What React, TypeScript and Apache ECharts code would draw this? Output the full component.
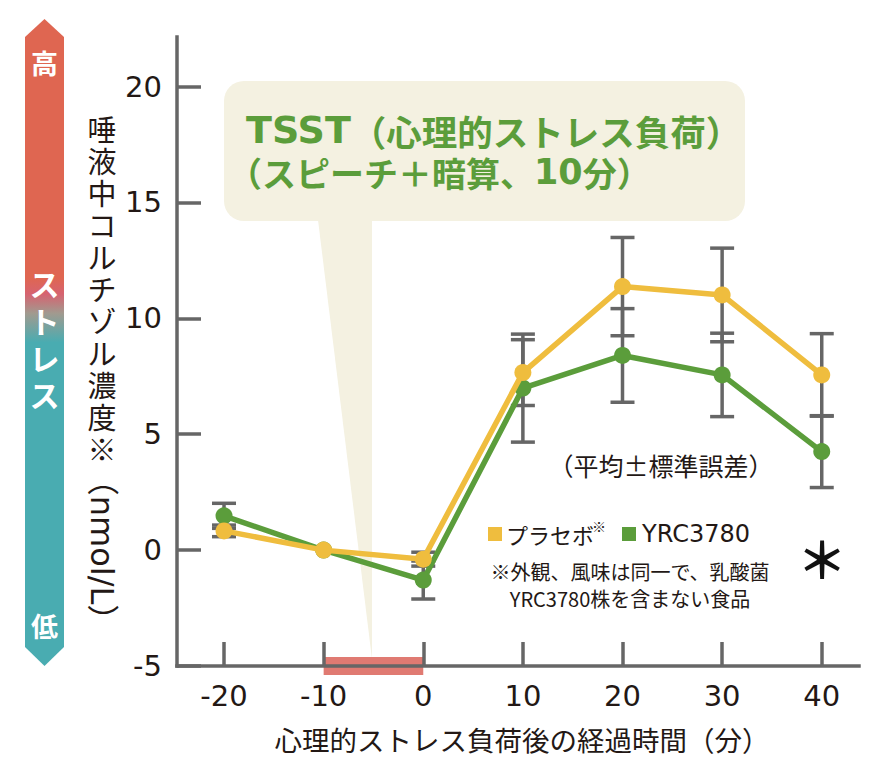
import React, { useEffect, useRef } from "react";
import * as echarts from "echarts";

// ---- data ----
const times = [-20, -10, 0, 10, 20, 30, 40];
const placeboMean = [0.83, 0, -0.39, 7.66, 11.37, 11.01, 7.56];
const placeboSE = [0.25, 0, 0.3, 1.42, 2.12, 2.02, 1.78];
const yrcMean = [1.48, 0, -1.29, 6.99, 8.4, 7.56, 4.25];
const yrcSE = [0.54, 0, 0.82, 2.33, 2.02, 1.8, 1.55];
const xTicks = [-20, -10, 0, 10, 20, 30, 40];
const yTicks = [-5, 0, 5, 10, 15, 20];
const stressPeriod = [-10, 0];
const seriesNames = ["プラセボ", "YRC3780"];
const yTitleChars = ["唾", "液", "中", "コ", "ル", "チ", "ゾ", "ル", "濃", "度", "※"];
const stressChars = ["ス", "ト", "レ", "ス"];

const YELLOW = "#efbd3e";
const GREEN = "#5b9d3b";
const AXIS = "#666666";
const INK = "#231815";
const LATIN = "'DejaVu Sans', 'Noto Sans CJK JP', sans-serif";
const CJK = "'Noto Sans CJK JP', sans-serif";

function errorData(mean: number[], se: number[]) {
  return times.map((t, i) => [t, mean[i] - se[i], mean[i] + se[i]]);
}

function renderError(_params: any, api: any) {
  const x = api.value(0);
  const lo = api.value(1);
  const hi = api.value(2);
  if (hi - lo < 1e-6) return { type: "group", children: [] };
  const pHi = api.coord([x, hi]);
  const pLo = api.coord([x, lo]);
  const hw = 12;
  const st = { stroke: AXIS, lineWidth: 3.5 };
  return {
    type: "group",
    children: [
      { type: "line", shape: { x1: pHi[0], y1: pHi[1], x2: pLo[0], y2: pLo[1] }, style: st },
      { type: "line", shape: { x1: pHi[0] - hw, y1: pHi[1], x2: pHi[0] + hw, y2: pHi[1] }, style: st },
      { type: "line", shape: { x1: pLo[0] - hw, y1: pLo[1], x2: pLo[0] + hw, y2: pLo[1] }, style: st },
    ],
  };
}

function renderBar(_params: any, api: any) {
  const a = api.coord([api.value(0), -5]);
  const b = api.coord([api.value(1), -5]);
  return {
    type: "rect",
    shape: { x: a[0], y: a[1] - 9, width: b[0] - a[0], height: 18 },
    style: { fill: "#e07a72" },
  };
}

export default function App() {
  const ref = useRef<HTMLDivElement>(null);
  useEffect(() => {
    if (!ref.current) return;
    document.body.style.margin = "0";
    const chart = echarts.init(ref.current, null, { renderer: "svg" });
    const yTitle = yTitleChars.map((c, i) => ({
      type: "text", z: 1, x: 102, y: 128 + i * 32,
      style: { text: c, fill: INK, fontSize: 29, lineHeight: 31, fontFamily: CJK, align: "center", verticalAlign: "middle" },
    }));
    const stressText = stressChars.map((c, i) => ({
      type: "text", z: 1, x: 44.5, y: 283 + i * 37,
      style: { text: c, fill: "#fff", fontSize: 30, fontWeight: "bold", fontFamily: CJK, align: "center", verticalAlign: "middle" },
    }));
    const option: any = {
      animation: false,
      backgroundColor: "#ffffff",
      grid: { left: 177, right: 37, top: 37, bottom: 113 },
      xAxis: {
        type: "value",
        min: -24.72,
        max: 43.74,
        z: 3,
        splitLine: { show: false },
        axisLine: { onZero: false, lineStyle: { color: AXIS, width: 3.5, cap: "square" } },
        axisTick: { inside: true, length: 24, customValues: xTicks, lineStyle: { color: AXIS, width: 3.5 } },
        axisLabel: { customValues: xTicks, color: INK, fontSize: 29, fontFamily: LATIN, margin: 15 },
      },
      yAxis: {
        type: "value",
        min: -5,
        max: 22.14,
        z: 3,
        splitLine: { show: false },
        axisLine: { show: true, onZero: false, lineStyle: { color: AXIS, width: 3.5, cap: "square" } },
        axisTick: { show: true, inside: true, length: 24, customValues: yTicks, lineStyle: { color: AXIS, width: 3.5 } },
        axisLabel: { customValues: yTicks, color: INK, fontSize: 29, fontFamily: LATIN, margin: 15 },
      },
      series: [
        {
          type: "custom",
          name: "stress",
          z: 1,
          renderItem: renderBar,
          encode: { x: [0, 1] },
          data: [stressPeriod],
        },
        {
          type: "custom",
          name: "err-yrc",
          z: 4,
          renderItem: renderError,
          encode: { x: 0, y: [1, 2] },
          data: errorData(yrcMean, yrcSE),
        },
        {
          type: "custom",
          name: "err-placebo",
          z: 4,
          renderItem: renderError,
          encode: { x: 0, y: [1, 2] },
          data: errorData(placeboMean, placeboSE),
        },
        {
          type: "line",
          name: seriesNames[1],
          z: 5,
          data: times.map((t, i) => [t, yrcMean[i]]),
          symbol: "circle",
          symbolSize: 17,
          lineStyle: { color: GREEN, width: 5.5 },
          itemStyle: { color: GREEN },
        },
        {
          type: "line",
          name: seriesNames[0],
          z: 6,
          data: times.map((t, i) => [t, placeboMean[i]]),
          symbol: "circle",
          symbolSize: 17,
          lineStyle: { color: YELLOW, width: 5.5 },
          itemStyle: { color: YELLOW },
        },
      ],
      graphic: {
        elements: [
          // stress arrow
          {
            type: "polygon",
            z: 0,
            shape: { points: [[44.5, 19], [64, 37], [64, 647], [44.5, 666], [25, 647], [25, 37]] },
            style: {
              fill: new echarts.graphic.LinearGradient(0, 0, 0, 1, [
                { offset: 0, color: "#df6651" },
                { offset: 0.4, color: "#df6651" },
                { offset: 0.425, color: "#d66370" },
                { offset: 0.455, color: "#a19a8f" },
                { offset: 0.5, color: "#49acb1" },
                { offset: 1, color: "#49acb1" },
              ]),
            },
          },
          { type: "text", z: 1, x: 44.5, y: 62, style: { text: "高", fill: "#fff", fontSize: 27, fontWeight: "bold", fontFamily: CJK, align: "center", verticalAlign: "middle" } },
          ...stressText,
          { type: "text", z: 1, x: 44.5, y: 625, style: { text: "低", fill: "#fff", fontSize: 27, fontWeight: "bold", fontFamily: CJK, align: "center", verticalAlign: "middle" } },
          // y axis title (vertical)
          ...yTitle,
          { type: "text", z: 1, x: 102, y: 550, rotation: -Math.PI / 2, style: { text: "（nmol/L）", fill: INK, fontSize: 32, fontFamily: LATIN, align: "center", verticalAlign: "middle" } },
          // callout
          { type: "rect", z: -1, shape: { x: 224, y: 81, width: 521, height: 140, r: 20 }, style: { fill: "#f4f1e1" } },
          { type: "polygon", z: -1, shape: { points: [[318, 220], [372, 220], [372, 659]] }, style: { fill: "#f4f1e1" } },
          {
            type: "text", z: 1, x: 246, y: 130,
            style: {
              text: "{a|TSST}{b|（心理的ストレス負荷）}",
              verticalAlign: "middle",
              rich: {
                a: { fill: GREEN, fontSize: 38, fontWeight: "bold", fontFamily: "'DejaVu Sans', sans-serif" },
                b: { fill: GREEN, fontSize: 35.5, fontWeight: "bold", fontFamily: CJK },
              },
            },
          },
          {
            type: "text", z: 1, x: 228, y: 172,
            style: {
              text: "{b|（スピーチ＋暗算、}{a|10}{b|分）}",
              verticalAlign: "middle",
              rich: {
                a: { fill: GREEN, fontSize: 35, fontWeight: "bold", fontFamily: "'DejaVu Sans', sans-serif" },
                b: { fill: GREEN, fontSize: 34, fontWeight: "bold", fontFamily: CJK },
              },
            },
          },
          // notes
          { type: "text", z: 1, x: 661, y: 465, style: { text: "（平均±標準誤差）", fill: INK, fontSize: 25, fontFamily: CJK, align: "center", verticalAlign: "middle" } },
          // legend
          { type: "rect", z: 1, shape: { x: 488, y: 527, width: 14, height: 14 }, style: { fill: YELLOW } },
          { type: "text", z: 1, x: 506, y: 534, style: { text: seriesNames[0], fill: INK, fontSize: 22, fontFamily: CJK, verticalAlign: "middle" } },
          { type: "text", z: 1, x: 592, y: 526, style: { text: "※", fill: INK, fontSize: 14, fontFamily: CJK, verticalAlign: "middle" } },
          { type: "rect", z: 1, shape: { x: 622, y: 527, width: 14, height: 14 }, style: { fill: GREEN } },
          { type: "text", z: 1, x: 642, y: 534, style: { text: seriesNames[1], fill: INK, fontSize: 24, fontFamily: LATIN, verticalAlign: "middle" } },
          { type: "text", z: 1, x: 630, y: 571, style: { text: "※外観、風味は同一で、乳酸菌", fill: INK, fontSize: 20, fontFamily: CJK, align: "center", verticalAlign: "middle" } },
          { type: "text", z: 1, x: 630, y: 598, style: { text: "YRC3780株を含まない食品", fill: INK, fontSize: 20, fontFamily: CJK, align: "center", verticalAlign: "middle" } },
          { type: "text", z: 1, x: 822, y: 557, style: { text: "＊", fill: "#111", fontSize: 50, fontWeight: "bold", fontFamily: CJK, align: "center", verticalAlign: "middle" } },
          // x axis title
          { type: "text", z: 1, x: 522, y: 739, style: { text: "心理的ストレス負荷後の経過時間（分）", fill: INK, fontSize: 27.5, fontFamily: CJK, align: "center", verticalAlign: "middle" } },
        ],
      },
    };
    chart.setOption(option);
    return () => chart.dispose();
  }, []);
  return <div ref={ref} style={{ width: 896, height: 779 }} />;
}
